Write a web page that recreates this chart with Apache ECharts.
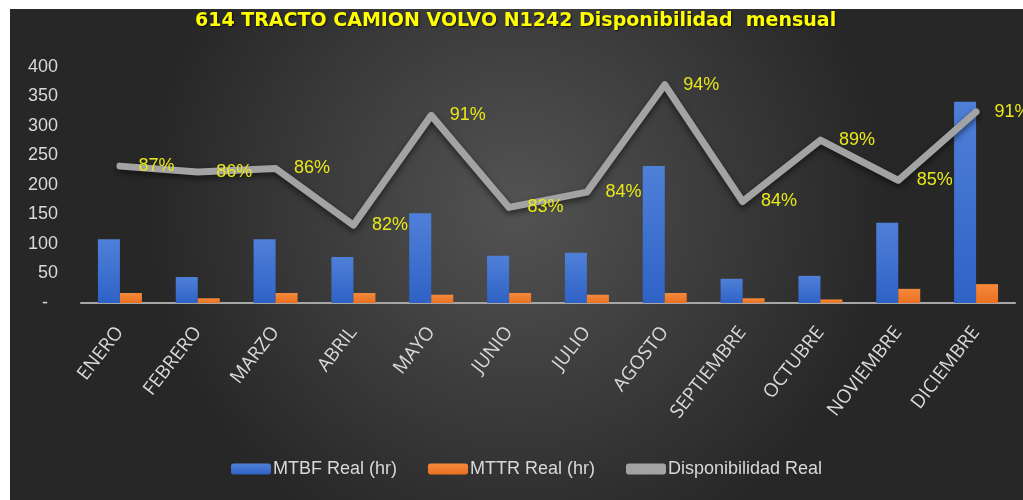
<!DOCTYPE html>
<html>
<head>
<meta charset="utf-8">
<script src="https://cdn.jsdelivr.net/npm/echarts@6/dist/echarts.min.js"></script>
<style>
  html, body { margin: 0; padding: 0; background: #fff; }
  #chart { position: absolute; left: 10px; top: 9px; width: 1013px; height: 491px; }
</style>
</head>
<body>
<div id="chart"></div>
<script>
const months = ["ENERO", "FEBRERO", "MARZO", "ABRIL", "MAYO", "JUNIO", "JULIO", "AGOSTO", "SEPTIEMBRE", "OCTUBRE", "NOVIEMBRE", "DICIEMBRE"];
const mtbf = [108, 44, 108, 78, 152, 80, 85, 232, 41, 46, 136, 341];
const mttr = [17, 8, 17, 17, 14, 17, 14, 17, 8, 6, 24, 32];
const disponibilidad = [86.6, 86.1, 86.4, 81.6, 90.9, 83.1, 84.4, 93.5, 83.6, 88.8, 85.4, 91.2];
const yTicks = [0, 50, 100, 150, 200, 250, 300, 350, 400];

const sans = '"Liberation Sans", sans-serif';
const lineGray = "#a3a3a3";

const chart = echarts.init(document.getElementById("chart"));

chart.setOption({
  backgroundColor: {
    type: "radial",
    x: 0.5,
    y: 0.4,
    r: 0.75,
    colorStops: [
      { offset: 0, color: "#535353" },
      { offset: 1, color: "#272727" },
    ],
  },
  title: {
    text: "614 TRACTO CAMION VOLVO N1242 Disponibilidad  mensual",
    left: 180,
    top: -2,
    textStyle: {
      color: "#ffff00",
      fontFamily: '"DejaVu Sans", sans-serif',
      fontWeight: "bold",
      fontSize: 19,
      textShadowColor: "rgba(0,0,0,0.7)",
      textShadowBlur: 2,
      textShadowOffsetX: 1,
      textShadowOffsetY: 1,
    },
  },
  legend: {
    left: 216,
    top: 446,
    itemWidth: 40,
    itemHeight: 11,
    itemGap: 31,
    textStyle: {
      color: "#d9d9d9",
      fontFamily: sans,
      fontSize: 18,
      padding: [0, 0, 0, -3],
    },
    data: [
      { name: "MTBF Real (hr)" },
      { name: "MTTR Real (hr)" },
      { name: "Disponibilidad Real", icon: "roundRect", itemStyle: { color: lineGray, opacity: 1 } },
    ],
  },
  grid: {
    left: 71,
    top: 58,
    width: 934,
    height: 236,
  },
  xAxis: {
    type: "category",
    data: months,
    axisLine: { lineStyle: { color: "#a6a6a6", width: 2 } },
    axisTick: { show: false },
    axisLabel: {
      interval: 0,
      rotate: 52,
      margin: 26,
      color: "#d9d9d9",
      fontFamily: '"Open Sans", sans-serif',
      fontSize: 19,
    },
  },
  yAxis: [
    {
      type: "value",
      min: yTicks[0],
      max: yTicks[yTicks.length - 1],
      interval: 50,
      splitLine: { show: false },
      axisLine: { show: false },
      axisTick: { show: false },
      axisLabel: {
        margin: 23,
        color: "#d9d9d9",
        fontFamily: sans,
        fontSize: 18,
        formatter: (v) => (v === 0 ? "-  " : String(v)),
      },
    },
    {
      type: "value",
      min: 75,
      max: 95,
      show: false,
      splitLine: { show: false },
    },
  ],
  series: [
    {
      name: "MTBF Real (hr)",
      type: "bar",
      data: mtbf,
      barWidth: 22,
      barGap: "0%",
      itemStyle: {
        color: {
          type: "linear", x: 0, y: 0, x2: 0, y2: 1,
          colorStops: [
            { offset: 0, color: "#4f80d8" },
            { offset: 1, color: "#2f62c6" },
          ],
        },
      },
    },
    {
      name: "MTTR Real (hr)",
      type: "bar",
      data: mttr,
      barWidth: 22,
      itemStyle: {
        color: {
          type: "linear", x: 0, y: 0, x2: 0, y2: 1,
          colorStops: [
            { offset: 0, color: "#f58a3c" },
            { offset: 1, color: "#ea7021" },
          ],
        },
      },
    },
    {
      name: "Disponibilidad Real",
      type: "line",
      yAxisIndex: 1,
      data: disponibilidad,
      symbol: "circle",
      symbolSize: 1,
      showSymbol: true,
      itemStyle: { color: "rgba(0,0,0,0)" },
      lineStyle: {
        color: lineGray,
        width: 7,
        join: "round",
        cap: "round",
        shadowColor: "rgba(0,0,0,0.55)",
        shadowBlur: 6,
        shadowOffsetY: 3,
      },
      label: {
        show: true,
        position: "right",
        distance: 18,
        color: "#e8e81a",
        fontFamily: sans,
        fontSize: 18,
        formatter: (p) => Math.round(p.value) + "%",
      },
      z: 3,
    },
  ],
});
</script>
</body>
</html>
